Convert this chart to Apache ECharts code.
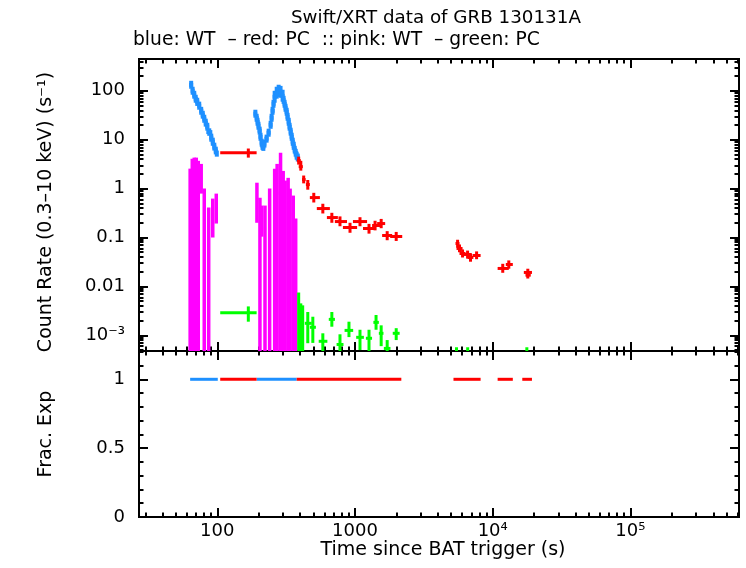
<!DOCTYPE html>
<html><head><meta charset="utf-8">
<script src="https://cdn.jsdelivr.net/npm/echarts@6/dist/echarts.min.js"></script>
<style>html,body{margin:0;padding:0;background:#fff}#c{width:746px;height:568px}</style>
</head><body><div id="c"></div>
<script>
// ---------------- data ----------------
const xTickValues = [100, 1000, 1e4, 1e5];
const xTickLabels = ['100', '1000', '10⁴', '10⁵'];
const rateTickValues = [100, 10, 1, 0.1, 0.01, 0.001];
const rateTickLabels = ['100', '10', '1', '0.1', '0.01', '10⁻³'];
const fracTickValues = [0, 0.5, 1];
const fracTickLabels = ['0', '0.5', '1'];

// rows: [time, timeLo, timeHi, rate, rateLo, rateHi]  (rateLo 0 = below axis)
const blueWT = [
  [64.6, 62.5, 66.8, 132, 110, 160], [66.2, 64, 68.4, 100, 83, 121], [68.0, 65.8, 70.3, 83, 69, 100],
  [69.7, 67.4, 72.1, 68.7, 57, 83], [71.5, 69.1, 73.9, 59.6, 49, 72], [73.9, 71.5, 76.4, 49.4, 41, 60],
  [76.4, 73.9, 79.1, 39.1, 32.4, 47], [78.4, 75.8, 81.1, 32.4, 26.9, 39], [80.4, 77.8, 83.2, 26.8, 22.2, 32.4],
  [82.4, 79.8, 85.3, 22.3, 18.5, 26.9], [84.6, 81.7, 87.4, 18.4, 15.3, 22.2], [87.4, 83.2, 92.0, 14.3, 12.0, 17.1],
  [90.4, 87.4, 93.5, 11.0, 9.1, 13.3], [92.7, 89.7, 95.9, 9.1, 7.5, 11.0], [95.1, 92, 98.3, 7.2, 6.0, 8.7],
  [97.5, 94.3, 100.8, 6.0, 5.0, 7.2], [99.2, 96.7, 100.8, 5.2, 4.5, 6.0],
  [189, 183, 195, 34, 28.2, 41], [193, 187, 200, 28.1, 23.3, 33.9], [196, 190, 203, 23.3, 19.3, 28.1],
  [199, 193, 206, 19.3, 16, 23.3], [203, 196, 210, 15.3, 12.7, 18.5], [206, 199, 213, 11.5, 9.5, 13.9],
  [210, 203, 217, 8.7, 7.2, 10.5], [213, 206, 220, 7.5, 6.2, 9.1], [216, 209, 223, 7.1, 5.9, 8.6],
  [220, 213, 227, 8.3, 6.9, 10], [228, 220, 236, 10.5, 8.7, 12.7], [236, 228, 244, 13.9, 11.5, 16.8],
  [244, 236, 252, 20.2, 16.7, 24.4], [248, 240, 256, 28.1, 23.3, 33.9], [252, 244, 261, 39.1, 32.4, 47.2],
  [256, 248, 265, 54.3, 45, 65.5], [261, 252, 270, 75.5, 57, 100], [270, 261, 279, 91, 69, 121],
  [279, 270, 288, 100, 75, 133], [288, 279, 298, 95.4, 72, 126], [298, 288, 308, 79, 60, 105],
  [303, 293, 313, 65.5, 54, 79], [308, 298, 319, 54.3, 45, 65.5], [313, 303, 324, 45, 37.3, 54.3],
  [319, 308, 330, 37.3, 30.9, 45], [324, 313, 335, 29.4, 24.4, 35.5], [330, 319, 341, 23.3, 19.3, 28.1],
  [335, 324, 347, 18.4, 15.3, 22.2], [341, 330, 353, 14.6, 12.1, 17.6], [347, 335, 359, 11.5, 9.5, 13.9],
  [353, 341, 365, 9.1, 7.5, 11], [359, 347, 371, 7.5, 6.2, 9.1], [365, 353, 377, 6.25, 5.2, 7.5],
  [371, 359, 384, 5.4, 4.5, 6.5], [377, 365, 390, 4.7, 3.9, 5.7], [384, 371, 397, 4.3, 3.6, 5.2]
];
const redPC = [
  [168, 105, 193, 5.4, 4.3, 6.6], [390, 378, 404, 3.73, 3.09, 4.5], [404, 390, 418, 2.81, 2.33, 3.7],
  [424, 412, 438, 1.53, 1.28, 1.85], [454, 440, 470, 1.21, 0.95, 1.5], [502, 470, 556, 0.655, 0.52, 0.82],
  [584, 528, 657, 0.391, 0.31, 0.49], [679, 625, 751, 0.256, 0.2, 0.32], [778, 714, 875, 0.212, 0.17, 0.27],
  [920, 817, 1036, 0.160, 0.125, 0.2], [1087, 966, 1224, 0.212, 0.17, 0.26], [1264, 1143, 1399, 0.153, 0.12, 0.19],
  [1399, 1331, 1520, 0.176, 0.14, 0.22], [1549, 1448, 1656, 0.193, 0.155, 0.24], [1713, 1574, 1862, 0.110, 0.088, 0.135],
  [1992, 1800, 2203, 0.105, 0.085, 0.13],
  [5560, 5370, 5740, 0.0755, 0.062, 0.09], [5740, 5460, 6040, 0.0597, 0.05, 0.072], [6040, 5740, 6350, 0.0471, 0.039, 0.057],
  [6570, 6140, 7030, 0.045, 0.037, 0.054], [6900, 6570, 7240, 0.0391, 0.032, 0.047], [7640, 7140, 8170, 0.0429, 0.036, 0.052],
  [11830, 10860, 13090, 0.0233, 0.019, 0.029], [13090, 12450, 14000, 0.0281, 0.023, 0.034],
  [17990, 16830, 19280, 0.0193, 0.016, 0.023], [17990, 17300, 18900, 0.017, 0.0145, 0.02]
];
const pinkWT = [
  [63.5, 62.7, 64.6, 0.5, 0, 2.56], [65.8, 64.6, 67.0, 0.8, 0, 4.1], [68.0, 67.0, 69.1, 0.8, 0, 4.3],
  [70.3, 69.1, 71.5, 0.8, 0, 4.3], [72.7, 71.5, 73.4, 0.7, 0, 3.7], [76.4, 75.2, 77.6, 1.6, 0.79, 3.2],
  [80.4, 79.1, 81.7, 0.3, 0, 1.0], [86.6, 85, 88, 0.15, 0, 0.41], [92.7, 91.2, 94.2, 0.25, 0.10, 0.625],
  [98.3, 96.7, 100, 0.4, 0.193, 0.79],
  [194, 191, 197, 0.5, 0.2, 1.32], [204, 201, 207, 0.2, 0, 0.65], [210, 207, 213, 0.2, 0.104, 0.45],
  [222, 218, 226, 0.15, 0, 0.45], [240, 235, 245, 0.3, 0, 1.0], [261, 256, 266, 0.6, 0, 2.56],
  [272, 268, 277, 0.8, 0, 3.2], [288, 283, 293, 1.2, 0, 5.4], [301, 296, 306, 0.6, 0, 2.3],
  [311, 306, 316, 0.4, 0, 1.46], [327, 321, 333, 0.4, 0, 1.66], [338, 333, 344, 0.3, 0, 1.0],
  [356, 350, 362, 0.2, 0, 0.72], [371, 365, 377, 0.1, 0, 0.245]
];
const greenPC = [
  [168, 105, 193, 0.0029, 0.0019, 0.0039], [390, 385, 396, 0.0045, 0, 0.0075], [404, 398, 410, 0.0030, 0, 0.0045],
  [417, 410, 424, 0.0022, 0, 0.0041], [454, 432, 485, 0.00176, 0.00069, 0.0030], [494, 470, 520, 0.00146, 0.0007, 0.0024],
  [584, 545, 630, 0.000755, 0.0004, 0.0011], [679, 645, 715, 0.00212, 0.0015, 0.0030], [778, 735, 825, 0.00065, 0.0003, 0.00105],
  [904, 840, 970, 0.00126, 0.00092, 0.0019], [1087, 1020, 1160, 0.00091, 0.0005, 0.0013], [1264, 1200, 1330, 0.00087, 0.0004, 0.0013],
  [1422, 1360, 1490, 0.00184, 0.0013, 0.0026], [1549, 1490, 1610, 0.0011, 0.0006, 0.0016], [1713, 1620, 1810, 0.00054, 0.0003, 0.0008],
  [1992, 1880, 2110, 0.0011, 0.0008, 0.0014],
  [5460, 5380, 5540, 0.0003, 0, 0.00057], [6580, 6480, 6680, 0.0003, 0, 0.00057], [17700, 17400, 18000, 0.0003, 0, 0.00057]
];
// fractional exposure: [timeLo, timeHi, frac]
const fracBlue = [[63.5, 100.8, 1], [193, 377, 1]];
const fracRed = [[105, 193, 1], [377, 2170, 1], [5190, 8170, 1], [10860, 14000, 1], [16400, 19280, 1]];

// ---------------- layout ----------------
const lg = Math.log10;
const X0 = lg(27.0), X1 = lg(614800);
const Y0 = lg(4.78e-4), Y1 = lg(446.7);
const F0 = 0, F1 = 1.2055;
const FONT = 'DejaVu Sans';
const FS = 18, FS2 = 19;
const BLUE = '#1e90ff', RED = '#ff0000', PINK = '#ff00ff', GREEN = '#00ff00';

const majX = xTickValues.map(lg);
const minX = [];
for (let d = 1; d <= 5; d++) for (let k = 2; k <= 9; k++) { const v = lg(k * Math.pow(10, d)); if (v > X0 && v < X1) minX.push(v); }
const majY = rateTickValues.map(lg);
const minY = [];
for (let d = -4; d <= 2; d++) for (let k = 2; k <= 9; k++) { const v = lg(k * Math.pow(10, d)); if (v > Y0 && v < Y1) minY.push(v); }
const majF = fracTickValues.slice();
const minF = [0.1, 0.2, 0.3, 0.4, 0.6, 0.7, 0.8, 0.9, 1.1, 1.2];

function lookup(vals, labels, v) {
  for (let i = 0; i < vals.length; i++) if (Math.abs(vals[i] - v) < 1e-6) return labels[i];
  return '';
}
function axis(gridIndex, pos, min, max, ticks, len, label) {
  return {
    type: 'value', gridIndex, position: pos, min, max,
    axisLine: { show: false, onZero: false }, splitLine: { show: false },
    axisTick: { show: true, inside: true, length: len, customValues: ticks, lineStyle: { color: '#000', width: 2 } },
    axisLabel: label ? Object.assign({ show: true, color: '#000', fontFamily: FONT, fontSize: FS }, label) : { show: false }
  };
}
const MJ = 9, MN = 4.5;
const xAxes = [
  axis(0, 'bottom', X0, X1, majX, MJ), axis(0, 'bottom', X0, X1, minX, MN),
  axis(0, 'top', X0, X1, majX, MJ), axis(0, 'top', X0, X1, minX, MN),
  axis(1, 'bottom', X0, X1, majX, MJ, { customValues: majX, margin: 5, formatter: v => lookup(majX, xTickLabels, v) }),
  axis(1, 'bottom', X0, X1, minX, MN),
  axis(1, 'top', X0, X1, majX, MJ), axis(1, 'top', X0, X1, minX, MN)
];
const yAxes = [
  axis(0, 'left', Y0, Y1, majY, MJ, { customValues: majY, margin: 14, formatter: v => lookup(majY, rateTickLabels, v) }),
  axis(0, 'left', Y0, Y1, minY, MN),
  axis(0, 'right', Y0, Y1, majY, MJ), axis(0, 'right', Y0, Y1, minY, MN),
  axis(1, 'left', F0, F1, majF, MJ, { customValues: majF, margin: 14, formatter: v => lookup(majF, fracTickLabels, v) }),
  axis(1, 'left', F0, F1, minF, MN),
  axis(1, 'right', F0, F1, majF, MJ), axis(1, 'right', F0, F1, minF, MN)
];

function toLog(rows) {
  return rows.map(p => [lg(p[0]), lg(p[1]), lg(p[2]), lg(p[3]), p[4] > 0 ? lg(p[4]) : -99, lg(p[5])]);
}
function errSeries(rows, color, lw) {
  return {
    type: 'custom', xAxisIndex: 0, yAxisIndex: 0, clip: true,
    data: toLog(rows), encode: { x: [0, 1, 2], y: [3, 4, 5] },
    renderItem: function (params, api) {
      const t = api.value(0), tl = api.value(1), th = api.value(2);
      const r = api.value(3), rl = Math.max(api.value(4), Y0), rh = Math.min(api.value(5), Y1);
      const ch = [];
      if (r >= Y0 && r <= Y1) {
        const a = api.coord([tl, r]), b = api.coord([th, r]);
        ch.push({ type: 'line', shape: { x1: a[0], y1: a[1], x2: b[0], y2: b[1] }, style: { stroke: color, lineWidth: lw } });
      }
      if (rh > rl) {
        const c = api.coord([t, rl]), d = api.coord([t, rh]);
        ch.push({ type: 'line', shape: { x1: c[0], y1: c[1], x2: d[0], y2: d[1] }, style: { stroke: color, lineWidth: lw } });
      }
      return { type: 'group', children: ch };
    }
  };
}
function fracSeries(rows, color) {
  return {
    type: 'custom', xAxisIndex: 4, yAxisIndex: 4, clip: true,
    data: rows.map(p => [lg(p[0]), lg(p[1]), p[2]]), encode: { x: [0, 1], y: 2 },
    renderItem: function (params, api) {
      const a = api.coord([api.value(0), api.value(2)]), b = api.coord([api.value(1), api.value(2)]);
      return { type: 'line', shape: { x1: a[0], y1: a[1], x2: b[0], y2: b[1] }, style: { stroke: color, lineWidth: 3 } };
    }
  };
}
function txt(text, x, y, align, rot, size) {
  const fs = size || FS2;
  return {
    type: 'text', x, y, rotation: rot || 0,
    style: { text, fill: '#000', font: fs + 'px "' + FONT + '"', fontFamily: FONT, fontSize: fs,
      align, textAlign: align, verticalAlign: 'middle', textVerticalAlign: 'middle' }
  };
}

const chart = echarts.init(document.getElementById('c'), null, { renderer: 'canvas' });
chart.setOption({
  animation: false,
  backgroundColor: '#fff',
  grid: [
    { left: 139, top: 59, width: 600, height: 292, show: true, borderColor: '#000', borderWidth: 2, backgroundColor: 'transparent' },
    { left: 139, top: 351, width: 600, height: 166, show: true, borderColor: '#000', borderWidth: 2, backgroundColor: 'transparent' }
  ],
  xAxis: xAxes,
  yAxis: yAxes,
  series: [
    errSeries(pinkWT, PINK, 3.5),
    errSeries(blueWT, BLUE, 4),
    errSeries(greenPC, GREEN, 3),
    errSeries(redPC, RED, 3),
    fracSeries(fracBlue, BLUE),
    fracSeries(fracRed, RED)
  ],
  graphic: [
    txt('Swift/XRT data of GRB 130131A', 291, 18.5, 'left', 0, 18.3),
    txt('blue: WT  – red: PC  :: pink: WT  – green: PC', 133, 40.5, 'left', 0, 18.7),
    txt('Time since BAT trigger (s)', 443, 550, 'center'),
    txt('Count Rate (0.3–10 keV) (s⁻¹)', 46, 212, 'center', Math.PI / 2),
    txt('Frac. Exp', 46, 434, 'center', Math.PI / 2)
  ]
});
</script></body></html>
